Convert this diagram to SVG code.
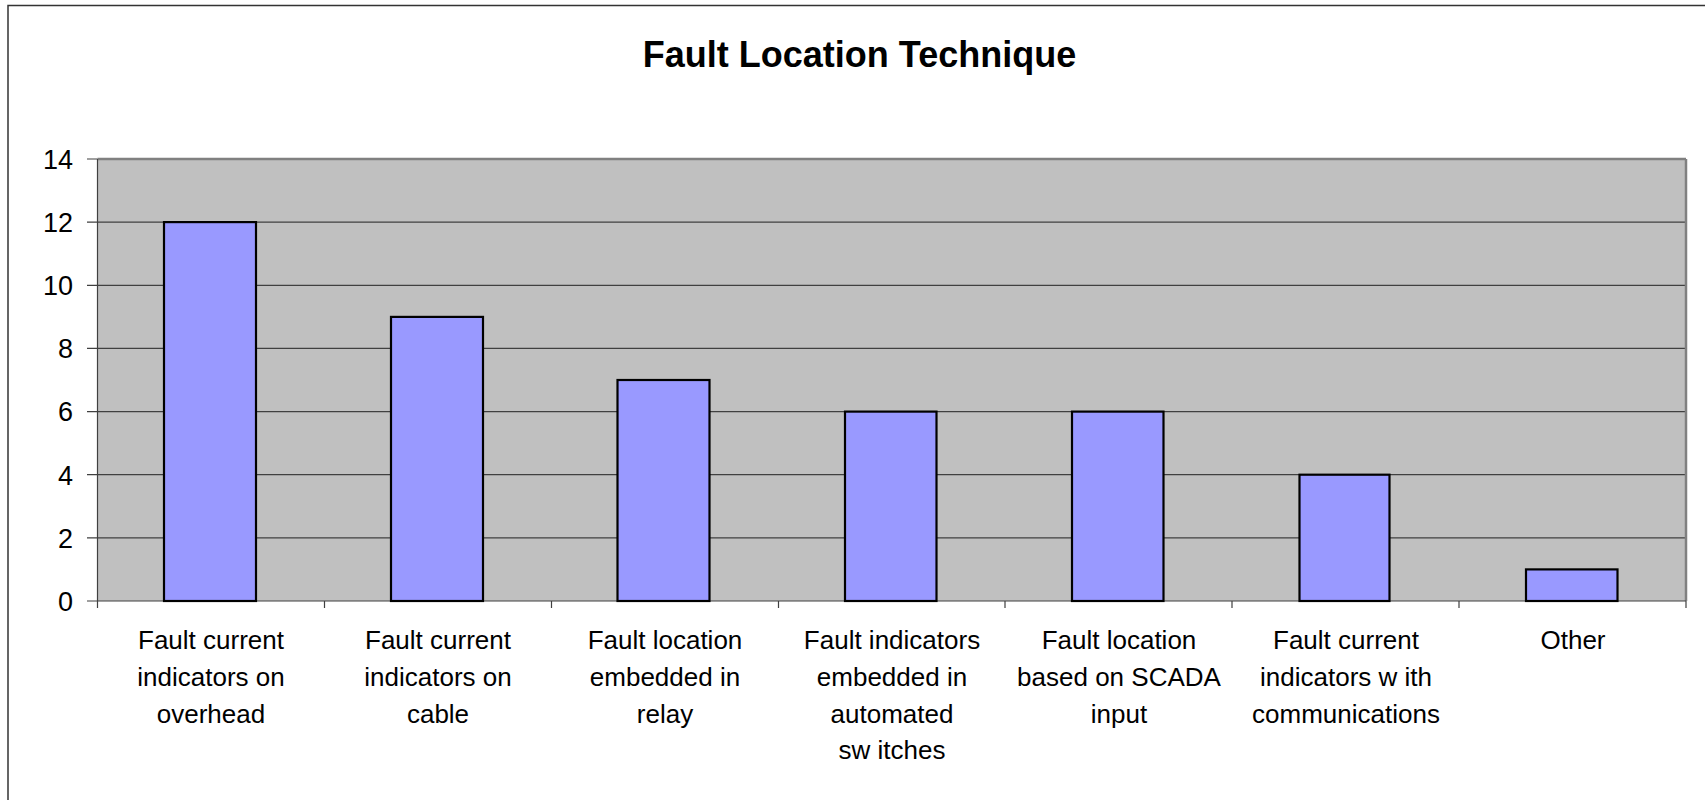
<svg xmlns="http://www.w3.org/2000/svg" width="1705" height="800" viewBox="0 0 1705 800">
<style>
text{font-family:"Liberation Sans",Arial,sans-serif;fill:#000}
.title{font-size:36px;font-weight:bold;text-anchor:middle}
.ylab{font-size:27px;text-anchor:end}
.xlab{font-size:26px;text-anchor:middle}
.grid{stroke:#404040;stroke-width:1.2}
.tick{stroke:#404040;stroke-width:1.2}
.bar{fill:#9999FF;stroke:#000;stroke-width:2.2}
</style>
<rect x="0" y="0" width="1705" height="800" fill="#fff"/>
<path d="M8 805 V5.5 H1710" fill="none" stroke="#333" stroke-width="1.5"/>
<text class="title" x="859.5" y="66.5">Fault Location Technique</text>
<g id="plot">
<rect x="97.5" y="159" width="1588.5" height="442" fill="#C0C0C0"/>
</g>
<g id="connectors">
<line class="grid" x1="97.5" y1="222.1" x2="1686" y2="222.1"/>
<line class="grid" x1="97.5" y1="285.3" x2="1686" y2="285.3"/>
<line class="grid" x1="97.5" y1="348.4" x2="1686" y2="348.4"/>
<line class="grid" x1="97.5" y1="411.6" x2="1686" y2="411.6"/>
<line class="grid" x1="97.5" y1="474.7" x2="1686" y2="474.7"/>
<line class="grid" x1="97.5" y1="537.9" x2="1686" y2="537.9"/>
<line x1="97.5" y1="159" x2="1686" y2="159" stroke="#808080" stroke-width="2.5"/>
<line x1="1686" y1="159" x2="1686" y2="601" stroke="#808080" stroke-width="2.5"/>
<line x1="97.5" y1="159" x2="97.5" y2="601" stroke="#404040" stroke-width="1.2"/>
<line x1="87" y1="601" x2="1686" y2="601" stroke="#404040" stroke-width="1.2"/>
<path class="tick" d="M87 159H97.5M87 222.1H97.5M87 285.3H97.5M87 348.4H97.5M87 411.6H97.5M87 474.7H97.5M87 537.9H97.5M97.5 601V608M324.5 601V608M551.5 601V608M778.5 601V608M1005 601V608M1232 601V608M1459 601V608M1686 601V608"/>
</g>
<g id="yaxis">
<text class="ylab" x="73" y="169">14</text>
<text class="ylab" x="73" y="232">12</text>
<text class="ylab" x="73" y="295">10</text>
<text class="ylab" x="73" y="358">8</text>
<text class="ylab" x="73" y="421">6</text>
<text class="ylab" x="73" y="484.5">4</text>
<text class="ylab" x="73" y="547.5">2</text>
<text class="ylab" x="73" y="611">0</text>
</g>
<g id="bar1"><rect class="bar" x="164" y="222.1" width="92" height="378.9"/></g>
<g id="bar2"><rect class="bar" x="391" y="316.9" width="92" height="284.1"/></g>
<g id="bar3"><rect class="bar" x="617.5" y="380" width="92" height="221"/></g>
<g id="bar4"><rect class="bar" x="845" y="411.6" width="91.5" height="189.4"/></g>
<g id="bar5"><rect class="bar" x="1072" y="411.6" width="91.5" height="189.4"/></g>
<g id="bar6"><rect class="bar" x="1299.5" y="474.7" width="90" height="126.3"/></g>
<g id="bar7"><rect class="bar" x="1526" y="569.4" width="91.5" height="31.6"/></g>
<g id="xlabels">
<text class="xlab" y="649.3"><tspan x="211">Fault current</tspan><tspan x="211" dy="36.6">indicators on</tspan><tspan x="211" dy="36.6">overhead</tspan></text>
<text class="xlab" y="649.3"><tspan x="438">Fault current</tspan><tspan x="438" dy="36.6">indicators on</tspan><tspan x="438" dy="36.6">cable</tspan></text>
<text class="xlab" y="649.3"><tspan x="665">Fault location</tspan><tspan x="665" dy="36.6">embedded in</tspan><tspan x="665" dy="36.6">relay</tspan></text>
<text class="xlab" y="649.3"><tspan x="892">Fault indicators</tspan><tspan x="892" dy="36.6">embedded in</tspan><tspan x="892" dy="36.6">automated</tspan><tspan x="892" dy="36.6">sw itches</tspan></text>
<text class="xlab" y="649.3"><tspan x="1119">Fault location</tspan><tspan x="1119" dy="36.6">based on SCADA</tspan><tspan x="1119" dy="36.6">input</tspan></text>
<text class="xlab" y="649.3"><tspan x="1346">Fault current</tspan><tspan x="1346" dy="36.6">indicators w ith</tspan><tspan x="1346" dy="36.6">communications</tspan></text>
<text class="xlab" y="649.3"><tspan x="1573">Other</tspan></text>
</g>
</svg>
